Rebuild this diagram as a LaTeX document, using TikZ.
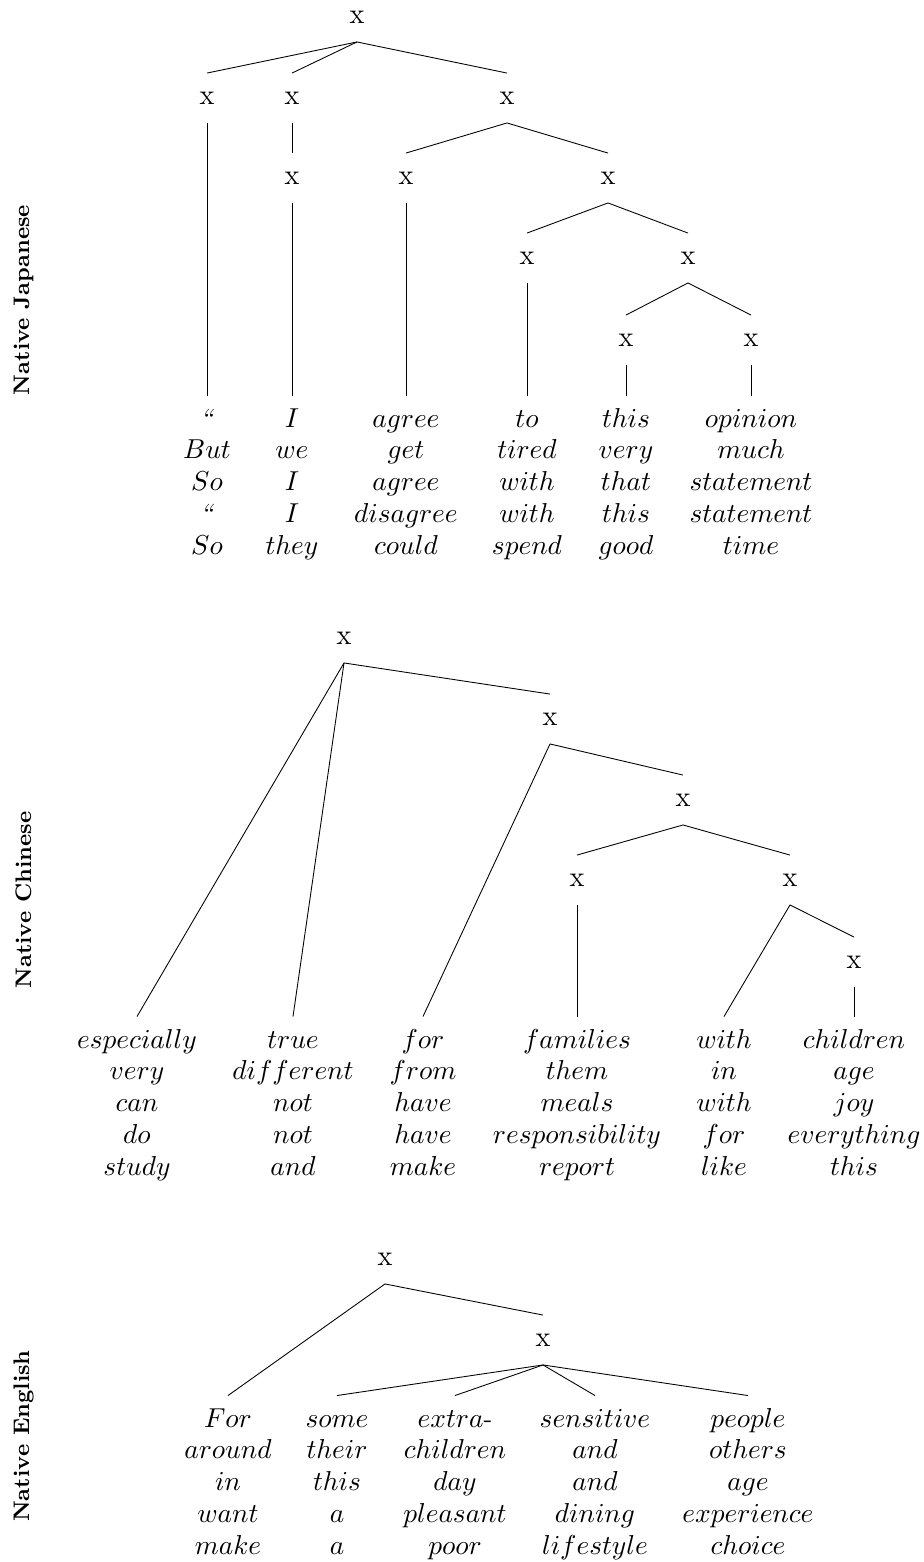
\documentclass[tikz,border=0pt]{standalone}
\newcommand{\lfcol}[1]{\begin{tabular}[t]{@{}c@{}}#1\end{tabular}}
\begin{document}
\begin{tikzpicture}[x=0.4pt,y=-0.4pt,
  xn/.style={font=\fontsize{11.5}{13}\selectfont, inner xsep=0pt, inner ysep=7.3pt, anchor=center},
  leaf/.style={font=\fontsize{10.5}{12.7}\selectfont, inner xsep=0pt, inner ysep=3.5pt, anchor=base},
  lbl/.style={font=\fontsize{9}{11}\selectfont\bfseries, rotate=90, anchor=center, inner sep=0pt},
  edge/.style={line width=0.35pt}]
\useasboundingbox (0,0) rectangle (923,1562);

% ---------- labels
\node[lbl] (labJ) at (24,300) {Native Japanese};
\node[lbl] (labC) at (24,900) {Native Chinese};
\node[lbl] (labE) at (24,1436) {Native English};

% ---------- Japanese tree
\node[xn] (J0) at (357,17) {x};
\node[xn] (J1) at (207,98) {x};
\node[xn] (J2) at (292,98) {x};
\node[xn] (J3) at (507,98) {x};
\node[xn] (J4) at (292,178) {x};
\node[xn] (J5) at (406,178) {x};
\node[xn] (J6) at (608,178) {x};
\node[xn] (J7) at (527,258) {x};
\node[xn] (J8) at (688,258) {x};
\node[xn] (J9) at (626,340) {x};
\node[xn] (J10) at (751,340) {x};

\node[leaf] (JL1) at (207,427) {\lfcol{\textit{“}\\$But$\\$So$\\\textit{“}\\$So$}};
\node[leaf] (JL2) at (292,427) {\lfcol{$I$\\$we$\\$I$\\$I$\\$they$}};
\node[leaf] (JL3) at (406,427) {\lfcol{$agree$\\$get$\\$agree$\\$disagree$\\$could$}};
\node[leaf] (JL4) at (527,427) {\lfcol{$to$\\$tired$\\$with$\\$with$\\$spend$}};
\node[leaf] (JL5) at (626,427) {\lfcol{$this$\\$very$\\$that$\\$this$\\$good$}};
\node[leaf] (JL6) at (751,427) {\lfcol{$opinion$\\$much$\\$statement$\\$statement$\\$time$}};

\draw[edge] (J0.south) -- (J1.north);
\draw[edge] (J0.south) -- (J2.north);
\draw[edge] (J0.south) -- (J3.north);
\draw[edge] (J1.south) -- (JL1.north);
\draw[edge] (J2.south) -- (J4.north);
\draw[edge] (J4.south) -- (JL2.north);
\draw[edge] (J3.south) -- (J5.north);
\draw[edge] (J3.south) -- (J6.north);
\draw[edge] (J5.south) -- (JL3.north);
\draw[edge] (J6.south) -- (J7.north);
\draw[edge] (J6.south) -- (J8.north);
\draw[edge] (J7.south) -- (JL4.north);
\draw[edge] (J8.south) -- (J9.north);
\draw[edge] (J8.south) -- (J10.north);
\draw[edge] (J9.south) -- (JL5.north);
\draw[edge] (J10.south) -- (JL6.north);

% ---------- Chinese tree
\node[xn] (C0) at (344,638) {x};
\node[xn] (C1) at (550,719) {x};
\node[xn] (C2) at (683,800) {x};
\node[xn] (C3) at (577,880) {x};
\node[xn] (C4) at (790,880) {x};
\node[xn] (C5) at (854,962) {x};

\node[leaf] (CL1) at (137,1048) {\lfcol{$especially$\\$very$\\$can$\\$do$\\$study$}};
\node[leaf] (CL2) at (293,1048) {\lfcol{$true$\\$different$\\$not$\\$not$\\$and$}};
\node[leaf] (CL3) at (423,1048) {\lfcol{$for$\\$from$\\$have$\\$have$\\$make$}};
\node[leaf] (CL4) at (577,1048) {\lfcol{$families$\\$them$\\$meals$\\$responsibility$\\$report$}};
\node[leaf] (CL5) at (724,1048) {\lfcol{$with$\\$in$\\$with$\\$for$\\$like$}};
\node[leaf] (CL6) at (854,1048) {\lfcol{$children$\\$age$\\$joy$\\$everything$\\$this$}};

\draw[edge] (C0.south) -- (CL1.north);
\draw[edge] (C0.south) -- (CL2.north);
\draw[edge] (C0.south) -- (C1.north);
\draw[edge] (C1.south) -- (CL3.north);
\draw[edge] (C1.south) -- (C2.north);
\draw[edge] (C2.south) -- (C3.north);
\draw[edge] (C2.south) -- (C4.north);
\draw[edge] (C3.south) -- (CL4.north);
\draw[edge] (C4.south) -- (CL5.north);
\draw[edge] (C4.south) -- (C5.north);
\draw[edge] (C5.south) -- (CL6.north);

% ---------- English tree
\node[xn] (E0) at (385,1259) {x};
\node[xn] (E1) at (543,1340) {x};

\node[leaf] (EL1) at (228,1427) {\lfcol{$For$\\$around$\\$in$\\$want$\\$make$}};
\node[leaf] (EL2) at (337,1427) {\lfcol{$some$\\$their$\\$this$\\$a$\\$a$}};
\node[leaf] (EL3) at (455,1427) {\lfcol{$extra$-\\$children$\\$day$\\$pleasant$\\$poor$}};
\node[leaf] (EL4) at (595,1427) {\lfcol{$sensitive$\\$and$\\$and$\\$dining$\\$lifestyle$}};
\node[leaf] (EL5) at (748,1427) {\lfcol{$people$\\$others$\\$age$\\$experience$\\$choice$}};

\draw[edge] (E0.south) -- (EL1.north);
\draw[edge] (E0.south) -- (E1.north);
\draw[edge] (E1.south) -- (EL2.north);
\draw[edge] (E1.south) -- (EL3.north);
\draw[edge] (E1.south) -- (EL4.north);
\draw[edge] (E1.south) -- (EL5.north);
\end{tikzpicture}
\end{document}
